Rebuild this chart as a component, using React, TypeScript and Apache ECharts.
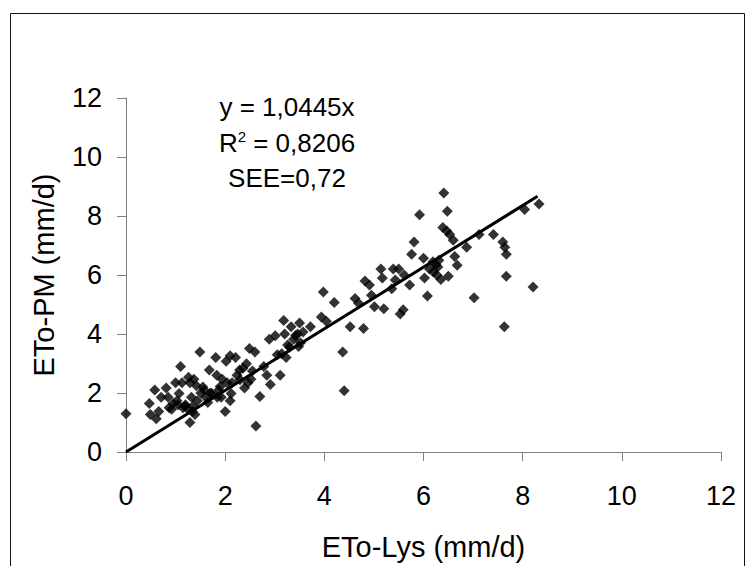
import React, { useEffect, useRef } from "react";
import * as echarts from "echarts";

const xTicks = [0, 2, 4, 6, 8, 10, 12];
const xLys: number[] = [
  0, 0.47, 0.49, 0.58, 0.61, 0.66, 0.71, 0.81, 0.85, 0.87, 0.95, 1.0, 1.03, 1.07, 1.1, 1.13, 1.15, 1.19,
  1.26, 1.29, 1.29, 1.32, 1.34, 1.37, 1.39, 1.42, 1.44, 1.49, 1.51, 1.58, 1.61, 1.65, 1.68, 1.73, 1.81,
  1.83, 1.84, 1.87, 1.9, 1.92, 1.94, 2.0, 2.02, 2.04, 2.1, 2.1, 2.12, 2.14, 2.21, 2.24, 2.29, 2.36, 2.39,
  2.43, 2.46, 2.49, 2.52, 2.6, 2.62, 2.7, 2.78, 2.84, 2.89, 2.91, 3.01, 3.11, 3.14, 3.18, 3.2, 3.23, 3.26,
  3.33, 3.38, 3.46, 3.48, 3.5, 3.52, 3.57, 3.72, 3.94, 3.98, 4.04, 4.2, 4.37, 4.4, 4.52, 4.62, 4.69, 4.79,
  4.82, 4.91, 4.95, 5.01, 5.14, 5.17, 5.2, 5.36, 5.39, 5.43, 5.5, 5.53, 5.59, 5.61, 5.72, 5.76, 5.81, 5.92,
  6.0, 6.02, 6.08, 6.12, 6.19, 6.2, 6.25, 6.27, 6.29, 6.31, 6.35, 6.39, 6.41, 6.47, 6.48, 6.5, 6.53, 6.6,
  6.63, 6.68, 6.87, 7.02, 7.12, 7.41, 7.6, 7.63, 7.64, 7.67, 7.67, 8.04, 8.21, 8.33,
  1.2, 1.25, 1.35, 1.05, 0.92, 1.55, 1.7, 2.3, 2.55, 3.05, 3.3, 3.42
];
const yPM: number[] = [
  1.3, 1.64, 1.27, 2.1, 1.13, 1.37, 1.86, 2.17, 1.86, 1.5, 1.64, 2.35, 1.74, 1.98, 2.9, 2.35, 1.5, 1.55,
  2.53, 2.35, 1.0, 1.86, 1.37, 2.47, 1.27, 2.25, 1.74, 3.39, 2.0, 2.1, 1.86, 1.68, 2.78, 1.98, 3.2,
  2.6, 1.86, 2.1, 2.22, 1.86, 2.47, 1.37, 3.08, 2.35, 3.26, 1.74, 1.98, 2.35, 3.2, 2.6, 2.78, 2.84, 2.17,
  2.99, 2.35, 3.51, 2.47, 3.39, 0.88, 1.88, 2.9, 2.6, 3.82, 2.29, 3.94, 2.6, 3.33, 4.46, 4.0, 3.2, 3.63,
  4.25, 3.82, 4.0, 3.58, 4.37, 3.7, 4.07, 4.25, 4.58, 5.42, 4.43, 5.07, 3.39, 2.08, 4.25, 5.2, 5.04, 4.19,
  5.8, 5.66, 5.31, 4.92, 6.2, 5.9, 4.86, 5.53, 6.2, 5.83, 6.2, 4.68, 4.82, 6.0, 5.66, 6.7, 7.12, 8.04,
  6.57, 5.9, 5.29, 6.2, 6.45, 6.1, 6.35, 6.0, 6.27, 6.5, 5.85, 7.61, 8.78, 7.49, 8.16, 5.96, 7.37, 7.18,
  6.63, 6.33, 6.94, 5.23, 7.37, 7.37, 7.12, 4.25, 6.94, 6.7, 5.96, 8.22, 5.59, 8.41,
  1.6, 1.45, 1.55, 1.6, 1.45, 2.2, 2.0, 2.45, 2.75, 3.3, 3.55, 3.95
];
const slope = 1.0445;
const fitX = [0, 8.3];
const annotation = ["y = 1,0445x", "R{sup|2} = 0,8206", "SEE=0,72"];

export default function App() {
  const ref = useRef<HTMLDivElement>(null);
  useEffect(() => {
    if (!ref.current) return;
    const chart = echarts.init(ref.current, null, { renderer: "svg" });
    const font = "'Liberation Sans', Arial, sans-serif";
    const axisCommon = {
      type: "value" as const,
      min: 0,
      max: 12,
      interval: 2,
      splitLine: { show: false },
      axisLine: { show: true, lineStyle: { color: "#808080", width: 1 } },
      axisTick: { show: true, inside: false, length: 9, lineStyle: { color: "#808080" } },
      nameLocation: "middle" as const,
      nameTextStyle: { fontFamily: font, fontSize: 29, color: "#000" },
    };
    chart.setOption({
      animation: false,
      backgroundColor: "#fff",
      grid: { left: 126, right: 33, top: 98, bottom: 114 },
      xAxis: {
        ...axisCommon,
        name: "ETo-Lys (mm/d)",
        nameGap: 80,
        axisLabel: { fontFamily: font, fontSize: 27, color: "#000", margin: 30, formatter: (v: number) => (xTicks.includes(v) ? String(v) : "") },
      },
      yAxis: {
        ...axisCommon,
        name: "ETo-PM (mm/d)",
        nameGap: 68,
        axisLabel: { fontFamily: font, fontSize: 27, color: "#000", margin: 24 },
      },
      graphic: [
        { type: "rect", shape: { x: 10.5, y: 13.5, width: 734, height: 700 }, style: { fill: "none", stroke: "#111", lineWidth: 1 }, z: 10 },
        ...annotation.map((t, i) => ({
          type: "text",
          x: 287,
          y: 107 + i * 35.5,
          style: {
            text: t,
            fontFamily: font,
            fontSize: 26,
            fill: "#000",
            align: "center",
            verticalAlign: "middle",
            rich: { sup: { fontSize: 15, verticalAlign: "top", padding: [0, 0, 12, 0], fontFamily: font } },
          },
        })),
      ],
      series: [
        {
          type: "scatter",
          symbol: "diamond",
          symbolSize: 11,
          itemStyle: { color: "#000" },
          data: xLys.map((x, i) => [x, yPM[i]]),
        },
        {
          type: "line",
          showSymbol: false,
          symbol: "none",
          lineStyle: { color: "#000", width: 3 },
          data: fitX.map((x) => [x, +(slope * x).toFixed(3)]),
          z: 3,
        },
      ],
    });
    return () => chart.dispose();
  }, []);
  return <div ref={ref} style={{ position: "fixed", left: 0, top: 0, width: 754, height: 566 }} />;
}
